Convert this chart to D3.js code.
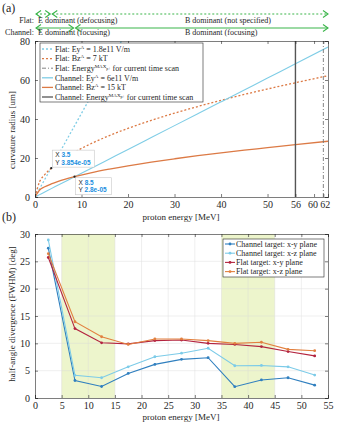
<!DOCTYPE html>
<html>
<head>
<meta charset="utf-8">
<script src="https://cdn.jsdelivr.net/npm/d3@7"></script>
<style>
  body { margin: 0; background: #fff; }
  svg { display: block; }
  text { font-family: "Liberation Serif", "DejaVu Serif", serif; fill: #262626; }
</style>
</head>
<body>
<svg width="342" height="424"></svg>
<script>
// ---- panel (a): curvature radius [um] vs proton energy [MeV]
var energyA = [0, 1, 2, 3.5, 5, 8.5, 12, 16, 20, 25, 30, 35, 40, 45, 50, 56, 63];
var flatEy = [0, 4.3, 8.6, 15.0, 21.5, 36.5, 51.5, 68.8, 86];
var flatBz = [0, 7.9, 11.2, 14.8, 17.7, 23.0, 27.3, 31.5, 35.2, 39.3, 43.0, 46.4, 49.6, 52.6, 55.4, 58.6, 62.2];
var chanEy = [0, 1.22, 2.44, 4.3, 6.1, 10.4, 14.6, 19.5, 24.4, 30.5, 36.6, 42.7, 48.8, 54.9, 61.0, 68.3, 76.9];
var chanBz = [0, 3.6, 5.1, 6.7, 8.0, 10.4, 12.4, 14.3, 16.0, 17.9, 19.6, 21.2, 22.6, 24.0, 25.3, 26.9, 28.6];
var energyMaxChannel = 56;
var energyMaxFlat = 62;
var ticksA = [0, 10, 20, 30, 40, 50, 56, 60, 62];
var tipsA = [
  { x: 3.5, y: 14.8, xs: "3.5", ys: "3.854e-05", dx: 1, dy: -18 },
  { x: 8.5, y: 10.4, xs: "8.5", ys: "2.8e-05", dx: 1, dy: 1 }
];

// ---- panel (b): half-angle divergence (FWHM) [deg]
var energyB = [2.5, 7.5, 12.5, 17.5, 22.5, 27.5, 32.5, 37.5, 42.5, 47.5, 52.5];
var chanXY = [27.4, 3.2, 2.1, 4.5, 6.15, 7.07, 7.37, 2.07, 3.3, 3.7, 2.35];
var chanXZ = [28.9, 4.15, 3.7, 5.7, 7.55, 8.2, 9.1, 5.9, 5.95, 5.7, 4.2];
var flatXY = [25.7, 12.7, 10.1, 9.9, 10.5, 10.6, 10.0, 9.8, 9.4, 8.5, 7.7];
var flatXZ = [26.4, 13.95, 11.2, 9.8, 10.8, 10.8, 10.5, 10.0, 10.2, 8.9, 8.65];
var bandsB = [[5, 15], [35, 45]];

var svg = d3.select("svg");
var green = "#3bb54a";
var cBlue = "#7fcde6", cOrange = "#dc7a45";

// ===================== panel (a) =====================
var xA = d3.scaleLinear().domain([0, 63]).range([35, 328]);
var yA = d3.scaleLinear().domain([0, 80]).range([197, 41]);

svg.append("text").attr("x", 2).attr("y", 12).style("font-size", "12px").text("(a)");

// regime annotations
function chevron(g, x, y, dir) {
  g.append("path")
    .attr("d", "M" + (x - dir * 5) + "," + (y - 3.5) + "L" + x + "," + y + "L" + (x - dir * 5) + "," + (y + 3.5))
    .attr("fill", "none").attr("stroke", green).attr("stroke-width", 1.1);
}
function regimeRow(y, split, dashed, label, t1, t2, ty) {
  var g = svg.append("g");
  var x0 = xA(0) + 1, x1 = xA(63), xs = xA(split);
  g.append("line").attr("x1", x0).attr("x2", xs - 1).attr("y1", y).attr("y2", y)
    .attr("stroke", green).attr("stroke-width", 1.1).attr("stroke-dasharray", dashed ? "2,2" : null);
  g.append("line").attr("x1", xs + 1).attr("x2", x1).attr("y1", y).attr("y2", y)
    .attr("stroke", green).attr("stroke-width", 1.1).attr("stroke-dasharray", dashed ? "2,2" : null);
  chevron(g, x0, y, -1);
  chevron(g, xs - 1, y, 1);
  chevron(g, xs + 1, y, -1);
  chevron(g, x1, y, 1);
  g.append("text").attr("x", 34).attr("y", ty).attr("text-anchor", "end").style("font-size", "8px").text(label);
  g.append("text").attr("x", 38).attr("y", ty).style("font-size", "8px").text(t1);
  g.append("text").attr("x", 185).attr("y", ty).style("font-size", "8px").text(t2);
}
regimeRow(14, 3.5, true, "Flat:", "E dominant (defocusing)", "B dominant (not specified)", 23);
regimeRow(28, 8.5, false, "Channel:", "E dominant (focusing)", "B dominant (focusing)", 34.5);

svg.append("clipPath").attr("id", "clipA").append("rect")
  .attr("x", 35).attr("y", 41).attr("width", 293).attr("height", 156);

var lineA = function(xs, ys) {
  return d3.line().x(function(d, i) { return xA(xs[i]); }).y(function(d) { return yA(d); })
    .curve(d3.curveMonotoneX)(ys);
};
var gA = svg.append("g").attr("clip-path", "url(#clipA)");
gA.append("path").attr("d", lineA(energyA, flatEy)).attr("fill", "none")
  .attr("stroke", cBlue).attr("stroke-width", 1.3).attr("stroke-dasharray", "2,2");
gA.append("path").attr("d", lineA(energyA, flatBz)).attr("fill", "none")
  .attr("stroke", cOrange).attr("stroke-width", 1.3).attr("stroke-dasharray", "2,2");
gA.append("path").attr("d", lineA(energyA, chanEy)).attr("fill", "none")
  .attr("stroke", cBlue).attr("stroke-width", 1.1);
gA.append("path").attr("d", lineA(energyA, chanBz)).attr("fill", "none")
  .attr("stroke", cOrange).attr("stroke-width", 1.3);
gA.append("line").attr("x1", xA(energyMaxChannel)).attr("x2", xA(energyMaxChannel))
  .attr("y1", yA(0)).attr("y2", yA(80)).attr("stroke", "#555").attr("stroke-width", 1.4);
gA.append("line").attr("x1", xA(energyMaxFlat)).attr("x2", xA(energyMaxFlat))
  .attr("y1", yA(0)).attr("y2", yA(80)).attr("stroke", "#777").attr("stroke-width", 0.9)
  .attr("stroke-dasharray", "4,2,1,2");

// axes with box and inward ticks
function boxAxes(x, y, xt, yt) {
  var g = svg.append("g").style("font-size", "8.5px");
  var r = x.range(), t = y.range();
  g.append("g").attr("class", "xb").attr("transform", "translate(0," + t[0] + ")")
    .call(d3.axisBottom(x).tickValues(xt).tickSize(-3).tickPadding(4).tickFormat(d3.format("d")));
  g.append("g").attr("transform", "translate(0," + t[1] + ")")
    .call(d3.axisTop(x).tickValues(xt).tickSize(-3).tickFormat(""));
  g.append("g").attr("transform", "translate(" + r[0] + ",0)")
    .call(d3.axisLeft(y).tickValues(yt).tickSize(-3).tickPadding(5));
  g.append("g").attr("transform", "translate(" + r[1] + ",0)")
    .call(d3.axisRight(y).tickValues(yt).tickSize(-3).tickFormat(""));
  g.selectAll(".domain").attr("stroke", "#262626").attr("stroke-width", 0.6);
  g.selectAll(".tick line").attr("stroke", "#262626").attr("stroke-width", 0.6);
  g.selectAll("text").style("font-family", "Liberation Serif, serif").attr("fill", "#262626");
  return g;
}
var axA = boxAxes(xA, yA, ticksA, [0, 20, 40, 60, 80]);
axA.select(".xb").selectAll(".tick text")
  .attr("dx", function(d) { return d === 60 ? -1.5 : d === 62 ? 1.5 : 0; });

svg.append("text").attr("x", 181).attr("y", 220).attr("text-anchor", "middle")
  .style("font-size", "9px").text("proton energy [MeV]");
svg.append("text").attr("transform", "translate(15,130) rotate(-90)").attr("text-anchor", "middle")
  .style("font-size", "9px").text("curvature radius [um]");

// data tips
tipsA.forEach(function(t) {
  var px = xA(t.x), py = yA(t.y);
  var g = svg.append("g").attr("transform", "translate(" + (px + t.dx) + "," + (py + t.dy) + ")");
  g.append("rect").attr("width", t.ys.length > 7 ? 42 : 36).attr("height", 17)
    .attr("fill", "#fff").attr("stroke", "#c8c8c8").attr("stroke-width", 0.6);
  var tx = g.append("text").attr("x", 3).attr("y", 7).style("font-family", "Liberation Sans, sans-serif").style("font-size", "6.5px");
  tx.append("tspan").text("X ");
  tx.append("tspan").attr("fill", "#1a8fe0").style("font-weight", "bold").text(t.xs);
  var ty = g.append("text").attr("x", 3).attr("y", 14.5).style("font-family", "Liberation Sans, sans-serif").style("font-size", "6.5px");
  ty.append("tspan").text("Y ");
  ty.append("tspan").attr("fill", "#1a8fe0").style("font-weight", "bold").text(t.ys);
  svg.append("circle").attr("cx", px).attr("cy", py).attr("r", 1.1).attr("fill", "#222");
});

// legend (a)
var legA = svg.append("g").attr("transform", "translate(40,43)");
legA.append("rect").attr("width", 163).attr("height", 59).attr("fill", "#fff")
  .attr("stroke", "#262626").attr("stroke-width", 0.6);
var legItemsA = [
  { pre: "Flat: Ey", sup: "A", post: " = 1.8e11 V/m", c: cBlue, dash: "2,2", w: 1.3 },
  { pre: "Flat: Bz", sup: "A", post: " = 7 kT", c: cOrange, dash: "2,2", w: 1.3 },
  { pre: "Flat: Energy", sup: "MAX", sub: "p+", post: " for current time scan", c: "#777", dash: "4,2,1,2", w: 0.9 },
  { pre: "Channel: Ey", sup: "A", post: " = 6e11 V/m", c: cBlue, dash: null, w: 1.3 },
  { pre: "Channel: Bz", sup: "A", post: " = 15 kT", c: cOrange, dash: null, w: 1.3 },
  { pre: "Channel: Energy", sup: "MAX", sub: "p+", post: " for current time scan", c: "#555", dash: null, w: 1.3 }
];
legItemsA.forEach(function(d, i) {
  var y = 6 + i * 9.6;
  legA.append("line").attr("x1", 2).attr("x2", 13).attr("y1", y).attr("y2", y)
    .attr("stroke", d.c).attr("stroke-width", d.w).attr("stroke-dasharray", d.dash);
  var t = legA.append("text").attr("x", 15).attr("y", y + 2.8).style("font-size", "8px");
  t.append("tspan").text(d.pre);
  t.append("tspan").attr("dy", -3).style("font-size", "5px").text(d.sup);
  if (d.sub) t.append("tspan").attr("dy", 1.5).style("font-size", "4px").text(d.sub);
  t.append("tspan").attr("dy", d.sub ? 1.5 : 3).text(d.post);
});

// ===================== panel (b) =====================
var xB = d3.scaleLinear().domain([0, 55]).range([35, 328]);
var yB = d3.scaleLinear().domain([0, 30]).range([398, 234]);

svg.append("text").attr("x", 2).attr("y", 221).style("font-size", "12px").text("(b)");

bandsB.forEach(function(b) {
  svg.append("rect").attr("x", xB(b[0])).attr("y", yB(30))
    .attr("width", xB(b[1]) - xB(b[0])).attr("height", yB(0) - yB(30))
    .attr("fill", "#edf5cc");
});
var gridB = svg.append("g").attr("stroke", "#d8d8d8").attr("stroke-width", 0.5).attr("opacity", 0.8);
d3.range(5, 55, 5).forEach(function(v) {
  gridB.append("line").attr("x1", xB(v)).attr("x2", xB(v)).attr("y1", yB(0)).attr("y2", yB(30));
});
d3.range(5, 30, 5).forEach(function(v) {
  gridB.append("line").attr("x1", xB(0)).attr("x2", xB(55)).attr("y1", yB(v)).attr("y2", yB(v));
});

var seriesB = [
  { name: "Channel target: x-y plane", v: chanXY, c: "#2f7fbf" },
  { name: "Channel target: x-z plane", v: chanXZ, c: "#7ccbe8" },
  { name: "Flat target: x-y plane", v: flatXY, c: "#b3243f" },
  { name: "Flat target: x-z plane", v: flatXZ, c: "#e2803f" }
];
var lineB = d3.line().x(function(d, i) { return xB(energyB[i]); }).y(function(d) { return yB(d); });
seriesB.forEach(function(s) {
  svg.append("path").attr("d", lineB(s.v)).attr("fill", "none").attr("stroke", s.c).attr("stroke-width", 1.1);
  svg.selectAll(null).data(s.v).enter().append("circle")
    .attr("cx", function(d, i) { return xB(energyB[i]); }).attr("cy", function(d) { return yB(d); })
    .attr("r", 1.4).attr("fill", s.c);
});

boxAxes(xB, yB, d3.range(0, 56, 5), d3.range(0, 31, 5));
svg.append("text").attr("x", 181).attr("y", 420).attr("text-anchor", "middle")
  .style("font-size", "9px").text("proton energy [MeV]");
svg.append("text").attr("transform", "translate(15,314) rotate(-90)").attr("text-anchor", "middle")
  .style("font-size", "9px").text("half-angle divergence (FWHM) [deg]");

// legend (b)
var legB = svg.append("g").attr("transform", "translate(223,239)");
legB.append("rect").attr("width", 101).attr("height", 38).attr("fill", "#fff")
  .attr("stroke", "#262626").attr("stroke-width", 0.6);
seriesB.forEach(function(s, i) {
  var y = 5 + i * 9.2;
  legB.append("line").attr("x1", 2).attr("x2", 12).attr("y1", y).attr("y2", y)
    .attr("stroke", s.c).attr("stroke-width", 1.1);
  legB.append("circle").attr("cx", 7).attr("cy", y).attr("r", 1.4).attr("fill", s.c);
  legB.append("text").attr("x", 13).attr("y", y + 2.8).style("font-size", "8px").text(s.name);
});
</script>
</body>
</html>
